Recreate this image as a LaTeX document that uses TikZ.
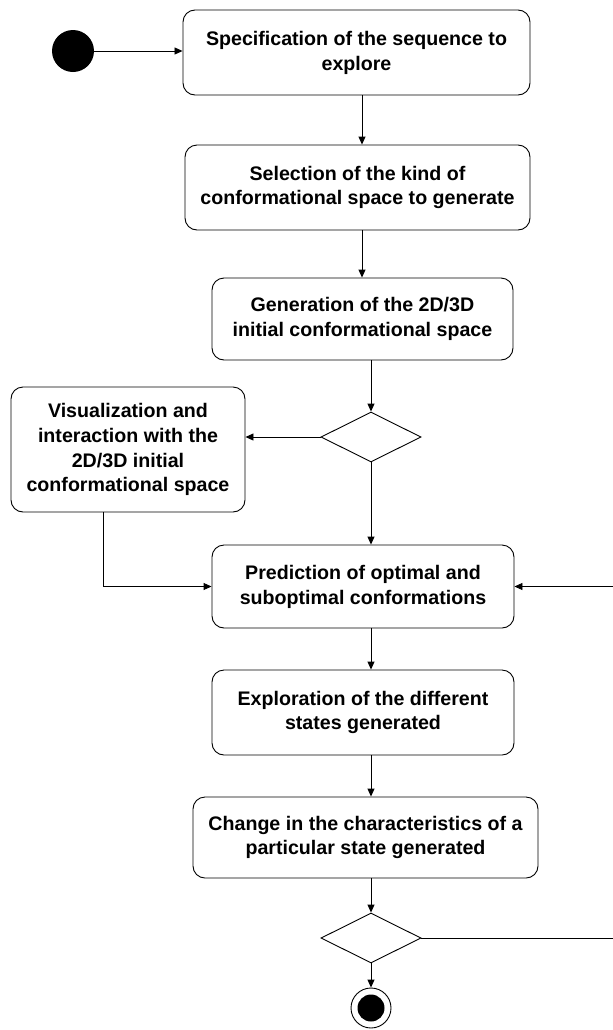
\documentclass[tikz,border=0pt]{standalone}
\usepackage{fontspec}
\setmainfont{Liberation Sans}
\usetikzlibrary{shapes.geometric,arrows.meta}
\begin{document}
\begin{tikzpicture}[x=1bp,y=-1bp,
  act/.style={draw, line width=0.9bp, rounded corners=12bp, align=center,
    font=\fontsize{19.7}{25}\selectfont\bfseries, inner sep=0pt},
  dec/.style={draw, line width=0.9bp, diamond, minimum width=100bp, minimum height=50bp, inner sep=0pt},
  arr/.style={line width=0.9bp, -{Triangle[length=8bp,width=7bp]}},
  ln/.style={line width=0.9bp}]
\useasboundingbox (0,0) rectangle (613,1030);
\fill[white] (0,0) rectangle (613,1030);
% columns
\coordinate (c1) at (362,0);
\coordinate (c2) at (371,0);
\coordinate (c3) at (103,0);
\coordinate (r) at (614.5,0);
% nodes
\node[circle, fill=black, minimum size=42bp, inner sep=0pt] (start) at (73,51) {};
\node[act, minimum width=347bp, minimum height=85bp] (b1) at (356.5,52.5) {Specification of the sequence to\\explore};
\node[act, minimum width=345bp, minimum height=85bp] (b2) at (357.5,187.5) {Selection of the kind of\\conformational space to generate};
\node[act, minimum width=301bp, minimum height=82bp] (b3) at (362.5,319) {Generation of the 2D/3D\\initial conformational space};
\node[dec] (d1) at (371,437) {};
\node[act, minimum width=234bp, minimum height=125bp] (b4) at (128,449.5) {Visualization and\\interaction with the\\2D/3D initial\\conformational space};
\node[act, minimum width=302bp, minimum height=83bp] (b5) at (363,586.5) {Prediction of optimal and\\suboptimal conformations};
\node[act, minimum width=302bp, minimum height=85bp] (b6) at (363,712.5) {Exploration of the different\\states generated};
\node[act, minimum width=345bp, minimum height=81bp] (b7) at (365.5,837.5) {Change in the characteristics of a\\particular state generated};
\node[dec] (d2) at (371,938) {};
\node[circle, draw, line width=0.9bp, minimum size=40bp, inner sep=0pt] (end) at (371,1008) {};
\fill (end.center) circle[radius=13.5bp];
% connectors
\draw[arr] (start.east) -- (start.east -| b1.west);
\draw[arr] (b1.south -| c1) -- (b2.north -| c1);
\draw[arr] (b2.south -| c1) -- (b3.north -| c1);
\draw[arr] (b3.south -| c2) -- (d1.north);
\draw[arr] (d1.west) -- (d1.west -| b4.east);
\draw[arr] (b4.south -| c3) |- (b5.west);
\draw[arr] (d1.south) -- (b5.north -| d1.south);
\draw[arr] (b5.south -| c2) -- (b6.north -| c2);
\draw[arr] (b6.south -| c2) -- (b7.north -| c2);
\draw[arr] (b7.south -| c2) -- (d2.north);
\draw[arr] (d2.south) -- (end.north);
\draw[arr] (d2.east) -- (d2.east -| r) -- (b5.east -| r) -- (b5.east);
\end{tikzpicture}
\end{document}
